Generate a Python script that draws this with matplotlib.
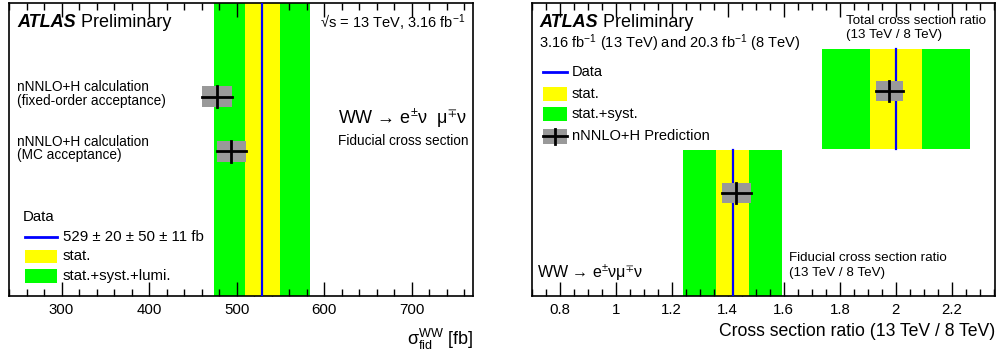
import numpy as np
import matplotlib
matplotlib.use("Agg")
import matplotlib.pyplot as plt
from matplotlib.patches import Rectangle
from matplotlib.lines import Line2D
from matplotlib.ticker import MultipleLocator

plt.rcParams['font.family'] = ['Liberation Sans', 'DejaVu Sans']
plt.rcParams['mathtext.fontset'] = 'custom'
plt.rcParams['mathtext.rm'] = 'Liberation Sans'
plt.rcParams['mathtext.it'] = 'Liberation Sans:italic'
plt.rcParams['mathtext.default'] = 'regular'

# left panel: fiducial WW cross section [fb]
data_xs = 529
data_stat = 20
data_syst = 50
data_lumi = 11
pred_labels = [["nNNLO+H calculation", "(fixed-order acceptance)"],
               ["nNNLO+H calculation", "(MC acceptance)"]]
pred_xs = [478, 494]
pred_xs_err = [17, 16.5]

# right panel: cross section ratio 13 TeV / 8 TeV
ratio_names = ["Fiducial", "Total"]
ratio_data = [1.417, 2.001]
ratio_stat = [0.060, 0.094]
ratio_total = [0.178, 0.263]
ratio_pred = [1.430, 1.977]
ratio_pred_err = [0.052, 0.048]

GREEN = '#00ff00'
YELLOW = '#ffff00'
GREY = '#999999'
BLUE = '#0000ff'

fig = plt.figure(figsize=(9.96, 3.53), dpi=100)
axL = fig.add_axes([9/996, 1-296/353, 464/996, 293/353])
axR = fig.add_axes([531.7/996, 1-296/353, 463.3/996, 293/353])


def style_axis(ax, major, minor):
    ax.set_ylim(0, 1)
    ax.set_yticks([])
    ax.xaxis.set_major_locator(MultipleLocator(major))
    ax.xaxis.set_minor_locator(MultipleLocator(minor))
    ax.tick_params(axis='x', which='both', direction='in', top=True, labelsize=10.8, pad=5)
    ax.tick_params(axis='x', which='major', length=10, width=1)
    ax.tick_params(axis='x', which='minor', length=5, width=1)
    for s in ax.spines.values():
        s.set_linewidth(1.2)


def pred_box(ax, x, xerr, y, yh, trans=None):
    kw = {} if trans is None else {'transform': trans}
    ax.add_patch(Rectangle((x - xerr, y - yh), 2*xerr, 2*yh, facecolor=GREY,
                           edgecolor='none', zorder=5, **kw))
    ax.add_line(Line2D([x - xerr, x + xerr], [y, y], color='black', lw=2, zorder=6, **kw))
    ax.add_line(Line2D([x, x], [y - yh, y + yh], color='black', lw=2, zorder=6, **kw))


def atlas_label(ax, x, y):
    t = ax.text(x, y, "ATLAS", transform=ax.transAxes, fontsize=13, fontweight='bold',
                fontstyle='italic', va='center', ha='left')
    ax.annotate(" Preliminary", xy=(1, 0), xycoords=t, fontsize=13, va='bottom', ha='left')


# ---------------- left panel
style_axis(axL, 100, 20)
axL.set_xlim(240, 770)
tot = np.sqrt(data_stat**2 + data_syst**2 + data_lumi**2)
axL.axvspan(data_xs - tot, data_xs + tot, color=GREEN, lw=0, zorder=1)
axL.axvspan(data_xs - data_stat, data_xs + data_stat, color=YELLOW, lw=0, zorder=2)
axL.axvline(data_xs, color=BLUE, lw=1.6, zorder=3)

pred_y = [0.68, 0.494]
for lab, x, xe, y in zip(pred_labels, pred_xs, pred_xs_err, pred_y):
    pred_box(axL, x, xe, y, 0.036)
    axL.text(0.0172, y + 0.033, lab[0], transform=axL.transAxes, fontsize=9.8, va='center')
    axL.text(0.0172, y - 0.014, lab[1], transform=axL.transAxes, fontsize=9.8, va='center')

atlas_label(axL, 0.017, 0.932)
axL.text(0.983, 0.932, "\u221as = 13 TeV, 3.16 fb$^{-1}$", transform=axL.transAxes,
         fontsize=10.5, ha='right', va='center')
axL.text(0.709, 0.608, "WW \u2192 e$^{\u00b1}$\u03bd  \u03bc$^{\u2213}$\u03bd", transform=axL.transAxes,
         fontsize=13, va='center')
axL.text(0.709, 0.529, "Fiducial cross section", transform=axL.transAxes, fontsize=9.8, va='center')

# legend
axL.text(0.030, 0.271, "Data", transform=axL.transAxes, fontsize=10.8, va='center')
axL.add_line(Line2D([0.0345, 0.1034], [0.2024, 0.2024], color=BLUE, lw=2, transform=axL.transAxes))
axL.text(0.1164, 0.2024, "529 \u00b1 20 \u00b1 50 \u00b1 11 fb", transform=axL.transAxes,
         fontsize=10.8, va='center')
axL.add_patch(Rectangle((0.0345, 0.1126), 0.0689, 0.0444, facecolor=YELLOW, edgecolor='none',
                        transform=axL.transAxes))
axL.text(0.1164, 0.135, "stat.", transform=axL.transAxes, fontsize=10.8, va='center')
axL.add_patch(Rectangle((0.0345, 0.044), 0.0689, 0.048, facecolor=GREEN, edgecolor='none',
                        transform=axL.transAxes))
axL.text(0.1164, 0.068, "stat.+syst.+lumi.", transform=axL.transAxes, fontsize=10.8, va='center')

axL.set_xlabel(r"$\sigma^{WW}_{fid}$ [fb]", loc='right', fontsize=13, labelpad=7)

# ---------------- right panel
style_axis(axR, 0.2, 0.05)
axR.set_xlim(0.7, 2.354)
axR.xaxis.set_major_formatter(plt.FuncFormatter(lambda v, p: f"{v:g}"))
band_y = [(0.0, 0.50), (0.503, 0.842)]
pred_ry = [0.352, 0.701]
for i in range(len(ratio_names)):
    y0, y1 = band_y[i]
    d = ratio_data[i]
    axR.add_patch(Rectangle((d - ratio_total[i], y0), 2*ratio_total[i], y1 - y0,
                            facecolor=GREEN, edgecolor='none', zorder=1))
    axR.add_patch(Rectangle((d - ratio_stat[i], y0), 2*ratio_stat[i], y1 - y0,
                            facecolor=YELLOW, edgecolor='none', zorder=2))
    axR.add_line(Line2D([d, d], [y0, y1], color=BLUE, lw=1.6, zorder=3))
    pred_box(axR, ratio_pred[i], ratio_pred_err[i], pred_ry[i], 0.034)

atlas_label(axR, 0.0158, 0.933)
axR.text(0.0158, 0.8625, "3.16 fb$^{-1}$ (13 TeV) and 20.3 fb$^{-1}$ (8 TeV)",
         transform=axR.transAxes, fontsize=10.5, va='center')
axR.text(0.678, 0.940, "Total cross section ratio", transform=axR.transAxes, fontsize=9.6, va='center')
axR.text(0.678, 0.891, "(13 TeV / 8 TeV)", transform=axR.transAxes, fontsize=9.6, va='center')
axR.text(0.5547, 0.1287, "Fiducial cross section ratio", transform=axR.transAxes, fontsize=9.6, va='center')
axR.text(0.5547, 0.0775, "(13 TeV / 8 TeV)", transform=axR.transAxes, fontsize=9.6, va='center')
axR.text(0.0121, 0.0775, "WW \u2192 e$^{\u00b1}$\u03bd\u03bc$^{\u2213}$\u03bd", transform=axR.transAxes,
         fontsize=11.5, va='center')

# legend
axR.add_line(Line2D([0.0237, 0.0755], [0.7635, 0.7635], color=BLUE, lw=2, transform=axR.transAxes))
axR.text(0.087, 0.7635, "Data", transform=axR.transAxes, fontsize=10.5, va='center')
axR.add_patch(Rectangle((0.0237, 0.6655), 0.0518, 0.0478, facecolor=YELLOW, edgecolor='none',
                        transform=axR.transAxes))
axR.text(0.087, 0.689, "stat.", transform=axR.transAxes, fontsize=10.5, va='center')
axR.add_patch(Rectangle((0.0237, 0.597), 0.0518, 0.048, facecolor=GREEN, edgecolor='none',
                        transform=axR.transAxes))
axR.text(0.087, 0.621, "stat.+syst.", transform=axR.transAxes, fontsize=10.5, va='center')
pred_box(axR, 0.0496, 0.0259, 0.5449, 0.0256, trans=axR.transAxes)
axR.text(0.087, 0.5449, "nNNLO+H Prediction", transform=axR.transAxes, fontsize=10.5, va='center')

axR.set_xlabel("Cross section ratio (13 TeV / 8 TeV)", loc='right', fontsize=12.7, labelpad=4)

fig.savefig("out.png", dpi=100)
